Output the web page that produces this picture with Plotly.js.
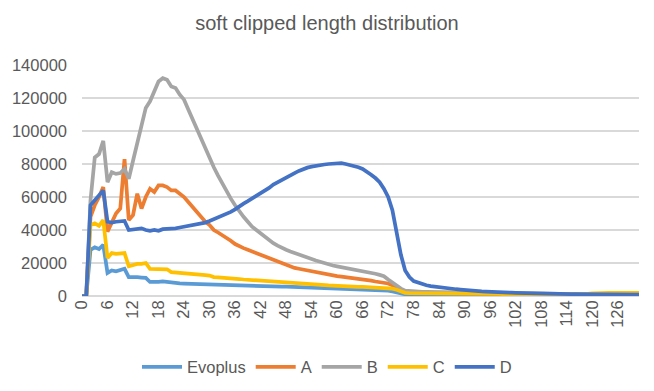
<!DOCTYPE html>
<html>
<head>
<meta charset="utf-8">
<script src="https://cdn.plot.ly/plotly-3.0.1.min.js"></script>
<style>html,body{margin:0;padding:0;background:#fff;}#chart{width:654px;height:391px;}</style>
</head>
<body>
<div id="chart"></div>
<script>
const categories = [0,1,2,3,4,5,6,7,8,9,10,11,12,13,14,15,16,17,18,19,20,21,22,23,24,25,26,27,28,29,30,31,32,33,34,35,36,37,38,39,40,41,42,43,44,45,46,47,48,49,50,51,52,53,54,55,56,57,58,59,60,61,62,63,64,65,66,67,68,69,70,71,72,73,74,75,76,77,78,79,80,81,82,83,84,85,86,87,88,89,90,91,92,93,94,95,96,97,98,99,100,101,102,103,104,105,106,107,108,109,110,111,112,113,114,115,116,117,118,119,120,121,122,123,124,125,126,127,128,129,130,131];

const evoplus = [0,0,28000,29500,28500,31000,14000,15500,15000,15500,
16500,11500,11600,11400,11200,11000,8500,8300,8500,8800,
8500,7800,7700,7600,7500,7400,7200,7100,7000,6900,
6800,6800,6700,6700,6600,6500,6500,6400,6300,6200,
6100,6100,6000,6000,5900,5800,5800,5700,5700,5600,
5500,5500,5400,5300,5200,5200,5100,5000,5000,4900,
4800,4700,4600,4500,4500,4400,4300,4200,4000,3900,
3700,3500,3300,2800,2200,1500,1000,
900,850,800,780,750,720,700,680,650,630,600,580,560,550,530,510,500,480,470,460,450,440,430,420,410,400,390,380,370,360,350,350,340,330,320,320,310,300,300,290,280,280,270,260,260,250,250,240,240,230,230,220,220,210,210];

const seriesA = [0,0,48000,55000,60000,66000,39000,45000,50000,53000,
83000,46000,49000,62000,53000,60000,65000,63000,67000,67000,
66000,64000,64000,62000,60000,57000,54000,51000,48000,45000,
43000,40000,38500,37000,35500,33500,31500,30000,29000,28000,
27000,25500,24500,23500,22500,21800,21000,20000,19000,18000,
17000,16500,16000,15200,14700,14000,13500,13000,12800,12300,
12000,11700,11400,11200,10800,10300,9800,9500,9300,8800,
8300,8000,7600,6500,5000,3300,2500,
2300,2200,2100,2000,1950,1900,1850,1800,1750,1700,1650,1600,1550,1500,1450,1400,1350,1300,1280,1250,1200,1180,1150,1100,1080,1050,1000,980,950,930,900,880,860,840,820,800,790,770,760,740,730,720,700,690,680,670,660,650,640,630,620,610,600,590,580];

const seriesB = [0,0,58000,84000,86000,94000,69000,75000,74000,74500,
77000,71000,82000,93000,103000,114000,118000,124000,130000,132000,
131000,127000,126000,122000,119000,113000,107000,102000,96000,90000,
83000,78000,73000,68000,64000,59000,55000,51000,48000,45000,
42000,40000,38000,35500,33500,32000,30500,29000,28000,27000,
26000,25000,24000,23000,22500,21500,20800,20000,19000,18500,
18000,17500,17200,16800,16500,16000,15500,15000,14500,13500,
12800,12000,10000,8000,6500,4500,3200,
2900,2700,2600,2500,2450,2400,2350,2300,2250,2200,2150,2100,2050,2000,1950,1900,1850,1800,1750,1700,1650,1600,1550,1500,1450,1400,1380,1350,1320,1300,1270,1250,1220,1200,1180,1150,1130,1100,1080,1060,1040,1020,1000,980,960,940,920,900,890,880,870,860,850,840,830];

const seriesC = [0,0,43000,44000,42500,46000,23000,26000,25500,25500,
26000,18000,19000,19500,19500,20000,16500,16500,16300,16500,
16200,14500,14200,14000,13700,13500,13300,13000,12800,12600,
12400,11500,11300,11200,11000,10800,10600,10300,10000,9800,
9600,9300,9100,8900,8700,8500,8300,8100,7900,7700,
7500,7300,7200,7000,6900,6800,6600,6500,6400,6300,
6100,6000,5900,5800,5700,5600,5500,5400,5400,5300,
5200,5100,5000,4500,3800,2600,1900,
1700,1650,1600,1600,1580,1550,1530,1500,1500,1480,1450,1430,1400,1400,1380,1350,1330,1300,1300,1280,1250,1230,1200,1200,1180,1150,1150,1130,1120,1100,1100,1090,1080,1070,1060,1050,1050,1040,1030,1020,1050,1100,1300,1600,1800,1850,1850,1900,1850,1850,1900,1850,1850,1900,1850];

const seriesD = [0,0,55000,58000,61000,64000,45000,44500,45000,45000,
45500,40000,40500,40500,41000,40000,39500,40000,39500,40500,
40500,41000,41000,41500,42000,42000,42500,43000,43500,44500,
45500,46500,47500,48500,49500,51000,52500,54500,56000,57500,
59000,61000,62500,64000,65500,67500,69000,70500,71800,73200,
74500,75800,77000,77800,78400,79000,79400,79700,80000,80200,
80500,80500,80000,79500,79000,78000,77000,75500,73500,71500,
69000,65000,60000,52000,38000,25000,15500,11500,9000,
8000,7200,6500,6000,5600,5200,4900,4600,4400,4100,3900,3600,3400,3200,3000,2800,2700,2500,2400,2300,2200,2100,2000,1900,1800,1700,1650,1600,1550,1500,1450,1400,1350,1300,1250,1200,1180,1150,1120,1100,1080,1050,1030,1000,980,960,940,920,900,880,860,850,840];

const seriesNames = ['Evoplus','A','B','C','D'];
const seriesValues = [evoplus, seriesA, seriesB, seriesC, seriesD];
const seriesColors = ['#5B9BD5','#ED7D31','#A5A5A5','#FFC000','#4472C4'];

const traces = seriesNames.map((n, i) => ({
  x: categories,
  y: seriesValues[i],
  name: n,
  type: 'scatter',
  mode: 'lines',
  line: {color: seriesColors[i], width: 3.75},
  hoverinfo: 'skip'
}));

const layout = {
  width: 654, height: 391,
  margin: {l: 82, r: 15, t: 65, b: 95, autoexpand: false},
  paper_bgcolor: '#ffffff', plot_bgcolor: '#ffffff',
  font: {family: 'Liberation Sans, Arial, sans-serif', color: '#595959', size: 16},
  title: {text: 'soft clipped length distribution', font: {size: 20, color: '#595959'},
          x: 0.5, xref: 'container', xanchor: 'center', y: 0.94, yref: 'container', yanchor: 'middle'},
  xaxis: {range: [0, 131], tickmode: 'linear', tick0: 0, dtick: 6, tickangle: -90,
          showgrid: false, zeroline: false, showline: false, ticks: '', automargin: false,
          tickfont: {size: 16.5, color: '#595959'}, fixedrange: true},
  yaxis: {range: [0, 140000], tickmode: 'linear', tick0: 0, dtick: 20000, tickformat: 'd',
          showgrid: true, gridcolor: '#d9d9d9', gridwidth: 1.3,
          zeroline: true, zerolinecolor: '#d9d9d9', zerolinewidth: 1.3, automargin: false,
          showline: false, ticks: '', ticklabelstandoff: 14,
          tickfont: {size: 16.5, color: '#595959'}, fixedrange: true},
  showlegend: true,
  legend: {orientation: 'h', xref: 'container', x: 0.5, xanchor: 'center',
           yref: 'container', y: 0.061, yanchor: 'middle',
           font: {size: 16.5, color: '#595959'}, itemwidth: 40, tracegroupgap: 0},
  hovermode: false
};

Plotly.newPlot('chart', traces, layout, {displayModeBar: false, staticPlot: true});
</script>
</body>
</html>
